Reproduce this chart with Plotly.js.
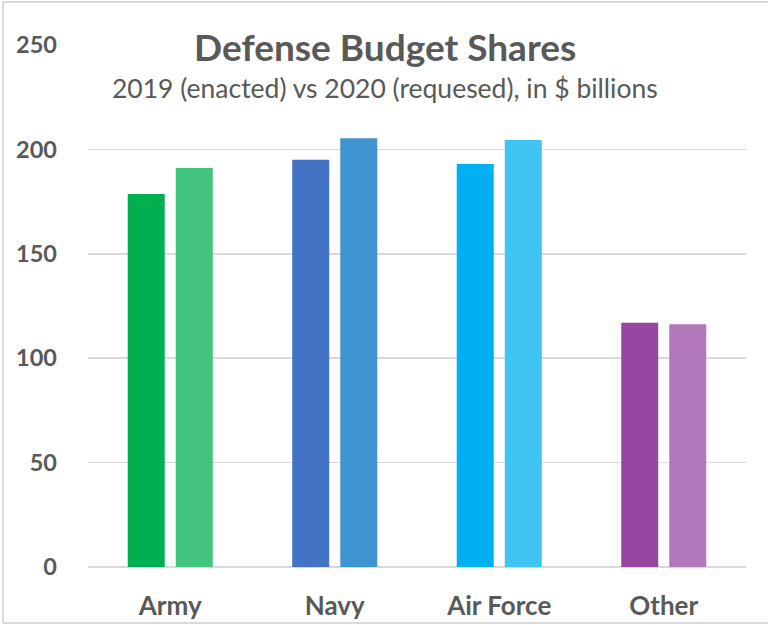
<!DOCTYPE html>
<html>
<head>
<meta charset="utf-8">
<script src="https://cdn.plot.ly/plotly-3.0.1.min.js"></script>
<style>
html,body{margin:0;padding:0;background:#fff;}
#chart{width:768px;height:625px;}
</style>
</head>
<body>
<div id="chart"></div>
<script>
const categories = ["Army", "Navy", "Air Force", "Other"];
const values2019 = [178.6, 195.0, 193.0, 117.0];
const values2020 = [191.1, 205.3, 204.5, 116.2];
const colors2019 = ["#00B050", "#4472C4", "#00B0F0", "#9747A1"];
const colors2020 = ["#43C47E", "#4094D0", "#40C4F4", "#B078BB"];
const yTicks = [0, 50, 100, 150, 200, 250];

const fontFam = "Lato, 'Open Sans', sans-serif";
const textColor = "#595959";

const traces = [
  {type: "bar", name: "2019 (enacted)", x: categories, y: values2019,
   marker: {color: colors2019}, hoverinfo: "x+y"},
  {type: "bar", name: "2020 (requested)", x: categories, y: values2020,
   marker: {color: colors2020}, hoverinfo: "x+y"}
];

const W = 768, H = 625, mL = 88, mR = 22, mT = 45, mB = 58;
const pw = W - mL - mR, ph = H - mT - mB;
const px = v => (v - mL) / pw;
const py = v => (H - mB - v) / ph;

const layout = {
  width: W, height: H,
  margin: {l: mL, r: mR, t: mT, b: mB, pad: 0},
  paper_bgcolor: "#ffffff", plot_bgcolor: "#ffffff",
  showlegend: false,
  barmode: "group",
  bargap: 0.416,
  bargroupgap: 0.23,
  font: {family: fontFam, color: textColor},
  xaxis: {
    showgrid: false, zeroline: false, showline: false,
    ticks: "", ticklabelstandoff: 21,
    tickfont: {family: fontFam, size: 26, color: textColor, weight: "bold"}
  },
  yaxis: {
    range: [0, 250], tickvals: yTicks, ticktext: yTicks.map(String),
    showgrid: true, gridcolor: "#d9d9d9", gridwidth: 1.5,
    zeroline: true, zerolinecolor: "#d9d9d9", zerolinewidth: 1.5,
    showline: false, ticks: "", ticklabelstandoff: 30,
    tickfont: {family: fontFam, size: 23.5, color: textColor, weight: "bold"}
  },
  annotations: [
    {text: "Defense Budget Shares", xref: "paper", yref: "paper",
     x: px(385), y: py(46), xanchor: "center", yanchor: "middle", showarrow: false,
     font: {family: fontFam, size: 37, color: textColor, weight: "bold"}},
    {text: "2019 (enacted) vs 2020 (requesed), in $ billions", xref: "paper", yref: "paper",
     x: px(385), y: py(88), xanchor: "center", yanchor: "middle", showarrow: false,
     font: {family: fontFam, size: 26.5, color: textColor}}
  ],
  shapes: [
    {type: "line", xref: "paper", yref: "paper", x0: px(3), x1: px(3), y0: py(2), y1: py(623),
     line: {color: "#d9d9d9", width: 2}},
    {type: "line", xref: "paper", yref: "paper", x0: px(3), x1: px(770), y0: py(2), y1: py(2),
     line: {color: "#d9d9d9", width: 2}},
    {type: "line", xref: "paper", yref: "paper", x0: px(3), x1: px(770), y0: py(623), y1: py(623),
     line: {color: "#d9d9d9", width: 2}}
  ]
};

Plotly.newPlot("chart", traces, layout, {displayModeBar: false, staticPlot: true});
</script>
</body>
</html>
